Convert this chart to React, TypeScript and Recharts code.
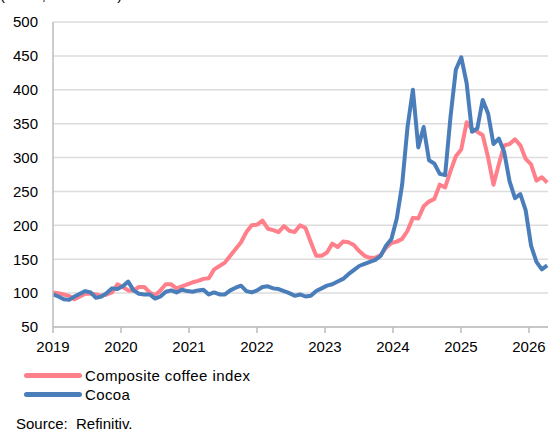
import { LineChart, Line, XAxis, YAxis, CartesianGrid } from 'recharts';

// index values, one observation roughly every four weeks from Jan 2019
const coffee = [
  101, 100, 98, 96, 91, 95, 99, 99, 98, 96, 98, 101,
  113, 109, 104, 104, 109, 109, 101, 97, 104, 113, 113, 107,
  110, 113, 116, 118, 121, 122, 135, 140, 145, 155, 165, 175,
  190, 200, 201, 207, 195, 193, 190, 199, 192, 190, 200, 196,
  175, 155, 155, 160, 173, 168, 176, 175, 171, 162, 155, 152,
  152, 156, 167, 174, 176, 180, 192, 211, 210, 228, 235, 239,
  260, 256, 280, 302, 312, 352, 342, 338, 333, 300, 260, 290,
  318, 320, 327, 318, 298, 290, 266, 271, 263,
];

const cocoa = [
  98, 95, 91, 90, 95, 99, 103, 101, 93, 95, 100, 107,
  106, 110, 117, 104, 99, 98, 98, 92, 95, 102, 104, 101,
  105, 103, 102, 104, 105, 98, 101, 98, 98, 104, 108, 111,
  103, 101, 104, 109, 110, 107, 106, 103, 100, 96, 98, 95,
  96, 103, 107, 111, 113, 117, 121, 128, 134, 140, 143, 146,
  149, 155, 170, 180, 210, 260, 345, 400, 315, 345, 296, 291,
  276, 274, 360, 430, 448, 410, 338, 343, 385, 365, 320, 328,
  308, 265, 240, 246, 222, 170, 146, 135, 141,
];

const startYear = 2019;
const obsStep = 0.079; // years between observations
const yearTicks = [2019, 2020, 2021, 2022, 2023, 2024, 2025, 2026];
const valueTicks = [50, 100, 150, 200, 250, 300, 350, 400, 450, 500];

const data = coffee.map((v, i) => ({ t: startYear + i * obsStep, coffee: v, cocoa: cocoa[i] }));

const FONT = 'Liberation Sans, Arial, sans-serif';
const PINK = '#ff7f8a';
const BLUE = '#4a7ebb';
const AXIS = '#bdbdbd';

const LegendRow = ({ color, label, top }: { color: string; label: string; top: number }) => (
  <div style={{ position: 'absolute', left: 24, top, height: 20, display: 'flex', alignItems: 'center' }}>
    <div style={{ width: 58, height: 5, borderRadius: 3, background: color }} />
    <span style={{ marginLeft: 3, fontSize: 15, letterSpacing: 0.4, color: '#000' }}>{label}</span>
  </div>
);

export default function App() {
  return (
    <div
      style={{
        position: 'absolute',
        left: 0,
        top: 0,
        width: 549,
        height: 434,
        overflow: 'hidden',
        background: '#fff',
        fontFamily: FONT,
      }}
    >
      <div style={{ position: 'absolute', left: 0, top: -13, fontSize: 15, lineHeight: '16px', whiteSpace: 'pre' }}>
        (Index, 2019=100)
      </div>
      <LineChart
        width={549}
        height={360}
        data={data}
        margin={{ top: 22, right: 1, left: 0, bottom: 0 }}
        style={{ position: 'absolute', left: 0, top: 0 }}
      >
        <CartesianGrid vertical={false} stroke="#dcdcdc" strokeWidth={1.5} />
        <XAxis
          dataKey="t"
          type="number"
          domain={[2019, 2026.28]}
          ticks={yearTicks}
          height={33}
          tickSize={6}
          tickMargin={8}
          axisLine={{ stroke: AXIS, strokeWidth: 1.5 }}
          tickLine={{ stroke: AXIS, strokeWidth: 1.5 }}
          tick={{ fill: '#000', fontSize: 15, fontFamily: FONT }}
          interval={0}
        />
        <YAxis
          domain={[50, 500]}
          ticks={valueTicks}
          width={53}
          tickSize={0}
          tickMargin={15}
          tickLine={false}
          axisLine={{ stroke: AXIS, strokeWidth: 1.5 }}
          tick={{ fill: '#000', fontSize: 15, fontFamily: FONT }}
          interval={0}
        />
        <Line
          dataKey="coffee"
          stroke={PINK}
          strokeWidth={4}
          dot={false}
          isAnimationActive={false}
          strokeLinejoin="round"
        />
        <Line
          dataKey="cocoa"
          stroke={BLUE}
          strokeWidth={4}
          dot={false}
          isAnimationActive={false}
          strokeLinejoin="round"
        />
      </LineChart>
      <LegendRow color={PINK} label="Composite coffee index" top={365} />
      <LegendRow color={BLUE} label="Cocoa" top={384} />
      <div style={{ position: 'absolute', left: 16, top: 415, fontSize: 15, whiteSpace: 'pre' }}>
        Source:  Refinitiv.
      </div>
    </div>
  );
}
